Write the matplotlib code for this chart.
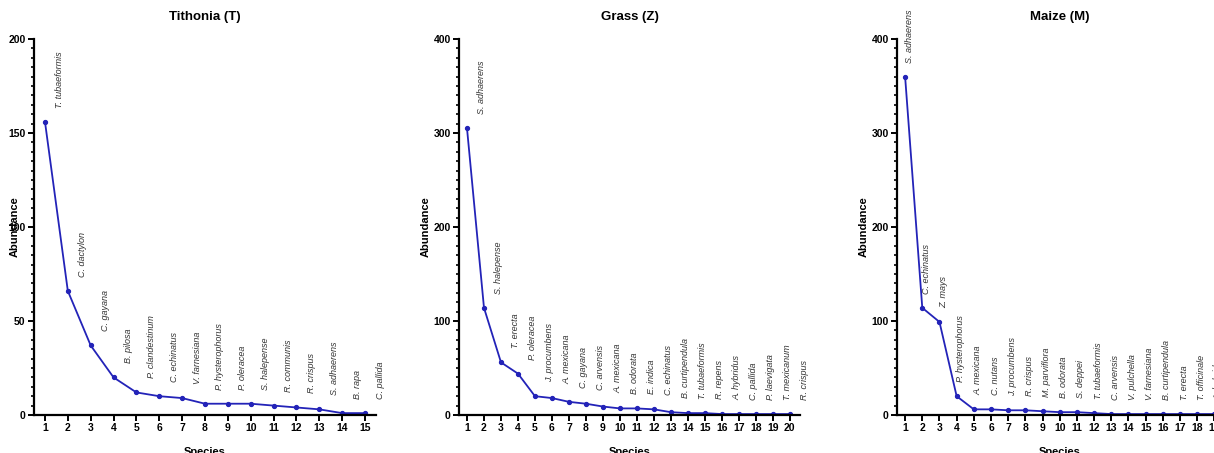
import matplotlib.pyplot as plt
from matplotlib.ticker import MultipleLocator

plt.rcParams["font.family"] = ["Liberation Sans", "DejaVu Sans"]

# rank-abundance data per plot type
tithonia_species = ["T. tubaeformis", "C. dactylon", "C. gayana", "B. pilosa",
                    "P. clandestinum", "C. echinatus", "V. farnesiana",
                    "P. hysterophorus", "P. oleracea", "S. halepense",
                    "R. communis", "R. crispus", "S. adhaerens", "B. rapa",
                    "C. pallida"]
tithonia_abundance = [156, 66, 37, 20, 12, 10, 9, 6, 6, 6, 5, 4, 3, 1, 1]

grass_species = ["S. adhaerens", "S. halepense", "T. erecta", "P. oleracea",
                 "J. procumbens", "A. mexicana", "C. gayana", "C. arvensis",
                 "A. mexicana", "B. odorata", "E. indica", "C. echinatus",
                 "B. curtipendula", "T. tubaeformis", "R. repens",
                 "A. hybridus", "C. pallida", "P. laevigata", "T. mexicanum",
                 "R. crispus"]
grass_abundance = [305, 114, 56, 44, 20, 18, 14, 12, 9, 7, 7, 6, 3, 2, 2,
                   1, 1, 1, 1, 1]

maize_species = ["S. adhaerens", "C. echinatus", "Z. mays", "P. hysterophorus",
                 "A. mexicana", "C. nutans", "J. procumbens", "R. crispus",
                 "M. parviflora", "B. odorata", "S. deppei", "T. tubaeformis",
                 "C. arvensis", "V. pulchella", "V. farnesiana",
                 "B. curtipendula", "T. erecta", "T. officinale", "A. hybridus"]
maize_abundance = [360, 114, 99, 20, 6, 6, 5, 5, 4, 3, 3, 2, 1, 1, 1, 1, 1,
                   1, 1]

line_col = "#2323b8"

fig = plt.figure(figsize=(12.14, 4.53), dpi=100)

panels = [
    ("Tithonia (T)", tithonia_species, tithonia_abundance,
     [0.028, 0.0839, 0.2817, 0.83], 200, 50, 5, (0.52, 15.48), 15, -0.041),
    ("Grass (Z)", grass_species, grass_abundance,
     [0.3781, 0.0839, 0.2809, 0.83], 400, 100, 10, (0.53, 20.6), 15, -0.082),
    ("Maize (M)", maize_species, maize_abundance,
     [0.7389, 0.0839, 0.2685, 0.83], 400, 100, 10, (0.53, 19.5), 4, -0.086),
]

for title, names, vals, pos, ymax, major, minor, xlim, dx, ylab_x in panels:
    ax = fig.add_axes(pos)
    ranks = list(range(1, len(vals) + 1))
    ax.plot(ranks, vals, "-o", color=line_col, lw=1.3, ms=2.8)
    for r, v, n in zip(ranks, vals, names):
        ax.annotate(n, (r, v), xytext=(dx, 14), textcoords="offset pixels",
                    rotation=90, ha="center", va="bottom", fontsize=6.5,
                    style="italic", color="#333333")
    ax.set_xlim(*xlim)
    ax.set_ylim(0, ymax)
    ax.set_xticks(ranks)
    ax.yaxis.set_major_locator(MultipleLocator(major))
    ax.yaxis.set_minor_locator(MultipleLocator(minor))
    ax.spines["top"].set_visible(False)
    ax.spines["right"].set_visible(False)
    ax.spines["left"].set_linewidth(1.6)
    ax.spines["bottom"].set_linewidth(1.6)
    ax.tick_params(axis="both", which="major", width=1.4, length=4,
                   labelsize=7.5, pad=2)
    ax.tick_params(axis="y", which="minor", width=1.2, length=2.5)
    for lab in ax.get_xticklabels() + ax.get_yticklabels():
        lab.set_fontweight("bold")
    ax.set_title(title, fontsize=9.5, fontweight="bold", pad=14)
    ax.set_xlabel("Species", fontsize=8, fontweight="bold", labelpad=10)
    ax.set_ylabel("Abundance", fontsize=8, fontweight="bold")
    ax.yaxis.set_label_coords(ylab_x, 0.5)

fig.savefig("out.png", dpi=100)
